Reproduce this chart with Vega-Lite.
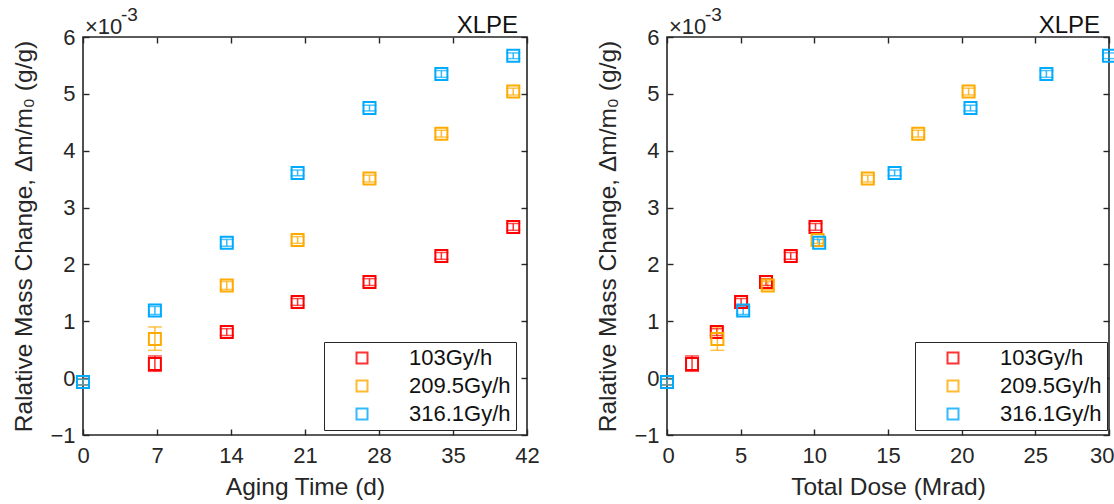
{
  "$schema": "https://vega.github.io/schema/vega-lite/v6.json",
  "background": "white",
  "padding": {"left": 11, "top": 5, "right": 2, "bottom": 2},
  "bounds": "flush",
  "spacing": 140,
  "config": {
    "font": "Liberation Sans",
    "view": {"stroke": "#262626", "strokeWidth": 1.6},
    "axis": {
      "domain": false,
      "grid": false,
      "tickColor": "#262626",
      "tickSize": 6,
      "offset": -6,
      "tickWidth": 1.4,
      "labelFlush": false,
      "labelFont": "Liberation Sans",
      "labelFontSize": 22,
      "labelColor": "#262626",
      "titleFont": "Liberation Sans",
      "titleFontSize": 24.5,
      "titleFontWeight": "normal",
      "titleColor": "#262626"
    },
    "legend": {
      "orient": "none",
      "strokeColor": "#262626",
      "fillColor": "white",
      "padding": 5,
      "rowPadding": 6,
      "symbolType": "square",
      "symbolSize": 121,
      "symbolStrokeWidth": 2,
      "symbolFillColor": "transparent",
      "symbolOffset": 22,
      "labelOffset": 36,
      "labelFont": "Liberation Sans",
      "labelFontSize": 22,
      "labelColor": "#111111",
      "title": null
    }
  },
  "datasets": {
    "pts": [
      {"rate": "103Gy/h", "days": 0, "dose": 0, "dm": -0.07, "lo": -0.12, "hi": -0.02},
      {"rate": "103Gy/h", "days": 6.8, "dose": 1.7, "dm": 0.25, "lo": 0.12, "hi": 0.39},
      {"rate": "103Gy/h", "days": 13.6, "dose": 3.38, "dm": 0.81, "lo": 0.75, "hi": 0.87},
      {"rate": "103Gy/h", "days": 20.3, "dose": 5.03, "dm": 1.34, "lo": 1.28, "hi": 1.40},
      {"rate": "103Gy/h", "days": 27.1, "dose": 6.72, "dm": 1.69, "lo": 1.63, "hi": 1.75},
      {"rate": "103Gy/h", "days": 33.9, "dose": 8.4, "dm": 2.15, "lo": 2.09, "hi": 2.21},
      {"rate": "103Gy/h", "days": 40.7, "dose": 10.08, "dm": 2.66, "lo": 2.60, "hi": 2.72},
      {"rate": "209.5Gy/h", "days": 0, "dose": 0, "dm": -0.07, "lo": -0.12, "hi": -0.02},
      {"rate": "209.5Gy/h", "days": 6.8, "dose": 3.42, "dm": 0.69, "lo": 0.49, "hi": 0.90},
      {"rate": "209.5Gy/h", "days": 13.6, "dose": 6.84, "dm": 1.63, "lo": 1.56, "hi": 1.70},
      {"rate": "209.5Gy/h", "days": 20.3, "dose": 10.22, "dm": 2.43, "lo": 2.37, "hi": 2.49},
      {"rate": "209.5Gy/h", "days": 27.1, "dose": 13.63, "dm": 3.51, "lo": 3.45, "hi": 3.57},
      {"rate": "209.5Gy/h", "days": 33.9, "dose": 17.05, "dm": 4.30, "lo": 4.24, "hi": 4.36},
      {"rate": "209.5Gy/h", "days": 40.7, "dose": 20.47, "dm": 5.04, "lo": 4.98, "hi": 5.10},
      {"rate": "316.1Gy/h", "days": 0, "dose": 0, "dm": -0.07, "lo": -0.12, "hi": -0.02},
      {"rate": "316.1Gy/h", "days": 6.8, "dose": 5.17, "dm": 1.19, "lo": 1.12, "hi": 1.26},
      {"rate": "316.1Gy/h", "days": 13.6, "dose": 10.33, "dm": 2.38, "lo": 2.32, "hi": 2.44},
      {"rate": "316.1Gy/h", "days": 20.3, "dose": 15.45, "dm": 3.61, "lo": 3.56, "hi": 3.66},
      {"rate": "316.1Gy/h", "days": 27.1, "dose": 20.6, "dm": 4.75, "lo": 4.70, "hi": 4.80},
      {"rate": "316.1Gy/h", "days": 33.9, "dose": 25.75, "dm": 5.35, "lo": 5.29, "hi": 5.41},
      {"rate": "316.1Gy/h", "days": 40.7, "dose": 30.0, "dm": 5.67, "lo": 5.62, "hi": 5.72}
    ]
  },
  "resolve": {"legend": {"color": "independent"}},
  "hconcat": [
    {
      "width": 444,
      "height": 398,
      "data": {"name": "pts"},
      "resolve": {"axis": {"x": "independent", "y": "independent"}},
      "layer": [
        {
          "mark": {"type": "rule", "strokeWidth": 1.5, "opacity": 0.8},
          "encoding": {
            "x": {"field": "days", "type": "quantitative", "scale": {"domain": [0, 42], "nice": false, "zero": false}, "axis": {"values": [0, 7, 14, 21, 28, 35, 42], "title": "Aging Time (d)", "labelPadding": 10, "titlePadding": 9}},
            "y": {"field": "lo", "type": "quantitative", "scale": {"domain": [-1, 6], "nice": false, "zero": false}, "axis": {"values": [-1, 0, 1, 2, 3, 4, 5, 6], "title": "Ralative Mass Change,  Δm/m₀ (g/g)", "labelPadding": 8, "titlePadding": 13}},
            "y2": {"field": "hi"},
            "color": {"field": "rate", "type": "nominal", "scale": {"domain": ["103Gy/h", "209.5Gy/h", "316.1Gy/h"], "range": ["#ff0000", "#ffaa00", "#00aaff"]}}
          }
        },
        {
          "mark": {"type": "rule", "xOffset": -7, "x2Offset": 7, "strokeWidth": 1.5, "opacity": 0.7},
          "encoding": {
            "x": {"field": "days", "type": "quantitative", "axis": null},
            "x2": {"field": "days"},
            "y": {"field": "lo", "type": "quantitative", "axis": null},
            "color": {"field": "rate", "type": "nominal"}
          }
        },
        {
          "mark": {"type": "rule", "xOffset": -7, "x2Offset": 7, "strokeWidth": 1.5, "opacity": 0.7},
          "encoding": {
            "x": {"field": "days", "type": "quantitative", "axis": null},
            "x2": {"field": "days"},
            "y": {"field": "hi", "type": "quantitative", "axis": null},
            "color": {"field": "rate", "type": "nominal"}
          }
        },
        {
          "mark": {"type": "point", "shape": "square", "filled": false, "size": 144, "strokeWidth": 2, "opacity": 1},
          "encoding": {
            "x": {"field": "days", "type": "quantitative", "axis": {"orient": "top", "values": [0, 7, 14, 21, 28, 35, 42], "labels": false, "title": null}},
            "y": {"field": "dm", "type": "quantitative", "axis": {"orient": "right", "values": [-1, 0, 1, 2, 3, 4, 5, 6], "labels": false, "title": null}},
            "color": {"field": "rate", "type": "nominal", "legend": {"legendX": 241, "legendY": 305}}
          }
        },
        {
          "data": {"values": [{"t": "×10"}]},
          "mark": {"type": "text", "align": "left", "baseline": "alphabetic", "dy": -3, "dx": 2, "fontSize": 22, "color": "#262626"},
          "encoding": {"x": {"datum": 0, "type": "quantitative", "axis": null}, "y": {"datum": 6, "type": "quantitative", "axis": null}, "text": {"field": "t"}}
        },
        {
          "data": {"values": [{"t": "-3"}]},
          "mark": {"type": "text", "align": "left", "baseline": "alphabetic", "dy": -16, "dx": 38, "fontSize": 19, "color": "#262626"},
          "encoding": {"x": {"datum": 0, "type": "quantitative", "axis": null}, "y": {"datum": 6, "type": "quantitative", "axis": null}, "text": {"field": "t"}}
        },
        {
          "data": {"values": [{"t": "XLPE"}]},
          "mark": {"type": "text", "align": "right", "baseline": "alphabetic", "dy": -4, "dx": -9, "fontSize": 24, "color": "#111111"},
          "encoding": {"x": {"datum": 42, "type": "quantitative", "axis": null}, "y": {"datum": 6, "type": "quantitative", "axis": null}, "text": {"field": "t"}}
        }
      ]
    },
    {
      "width": 442,
      "height": 398,
      "data": {"name": "pts"},
      "resolve": {"axis": {"x": "independent", "y": "independent"}},
      "layer": [
        {
          "mark": {"type": "rule", "strokeWidth": 1.5, "opacity": 0.8},
          "encoding": {
            "x": {"field": "dose", "type": "quantitative", "scale": {"domain": [0, 30], "nice": false, "zero": false}, "axis": {"values": [0, 5, 10, 15, 20, 25, 30], "title": "Total Dose (Mrad)", "labelPadding": 10, "titlePadding": 9, "labelFlush": true, "labelFlushOffset": 5}},
            "y": {"field": "lo", "type": "quantitative", "scale": {"domain": [-1, 6], "nice": false, "zero": false}, "axis": {"values": [-1, 0, 1, 2, 3, 4, 5, 6], "title": "Ralative Mass Change,  Δm/m₀ (g/g)", "labelPadding": 8, "titlePadding": 13}},
            "y2": {"field": "hi"},
            "color": {"field": "rate", "type": "nominal", "scale": {"domain": ["103Gy/h", "209.5Gy/h", "316.1Gy/h"], "range": ["#ff0000", "#ffaa00", "#00aaff"]}}
          }
        },
        {
          "mark": {"type": "rule", "xOffset": -7, "x2Offset": 7, "strokeWidth": 1.5, "opacity": 0.7},
          "encoding": {
            "x": {"field": "dose", "type": "quantitative", "axis": null},
            "x2": {"field": "dose"},
            "y": {"field": "lo", "type": "quantitative", "axis": null},
            "color": {"field": "rate", "type": "nominal"}
          }
        },
        {
          "mark": {"type": "rule", "xOffset": -7, "x2Offset": 7, "strokeWidth": 1.5, "opacity": 0.7},
          "encoding": {
            "x": {"field": "dose", "type": "quantitative", "axis": null},
            "x2": {"field": "dose"},
            "y": {"field": "hi", "type": "quantitative", "axis": null},
            "color": {"field": "rate", "type": "nominal"}
          }
        },
        {
          "mark": {"type": "point", "shape": "square", "filled": false, "size": 144, "strokeWidth": 2, "opacity": 1},
          "encoding": {
            "x": {"field": "dose", "type": "quantitative", "axis": {"orient": "top", "values": [0, 5, 10, 15, 20, 25, 30], "labels": false, "title": null}},
            "y": {"field": "dm", "type": "quantitative", "axis": {"orient": "right", "values": [-1, 0, 1, 2, 3, 4, 5, 6], "labels": false, "title": null}},
            "color": {"field": "rate", "type": "nominal", "legend": {"legendX": 248, "legendY": 305}}
          }
        },
        {
          "data": {"values": [{"t": "×10"}]},
          "mark": {"type": "text", "align": "left", "baseline": "alphabetic", "dy": -3, "dx": 2, "fontSize": 22, "color": "#262626"},
          "encoding": {"x": {"datum": 0, "type": "quantitative", "axis": null}, "y": {"datum": 6, "type": "quantitative", "axis": null}, "text": {"field": "t"}}
        },
        {
          "data": {"values": [{"t": "-3"}]},
          "mark": {"type": "text", "align": "left", "baseline": "alphabetic", "dy": -16, "dx": 38, "fontSize": 19, "color": "#262626"},
          "encoding": {"x": {"datum": 0, "type": "quantitative", "axis": null}, "y": {"datum": 6, "type": "quantitative", "axis": null}, "text": {"field": "t"}}
        },
        {
          "data": {"values": [{"t": "XLPE"}]},
          "mark": {"type": "text", "align": "right", "baseline": "alphabetic", "dy": -4, "dx": -9, "fontSize": 24, "color": "#111111"},
          "encoding": {"x": {"datum": 30, "type": "quantitative", "axis": null}, "y": {"datum": 6, "type": "quantitative", "axis": null}, "text": {"field": "t"}}
        }
      ]
    }
  ]
}
